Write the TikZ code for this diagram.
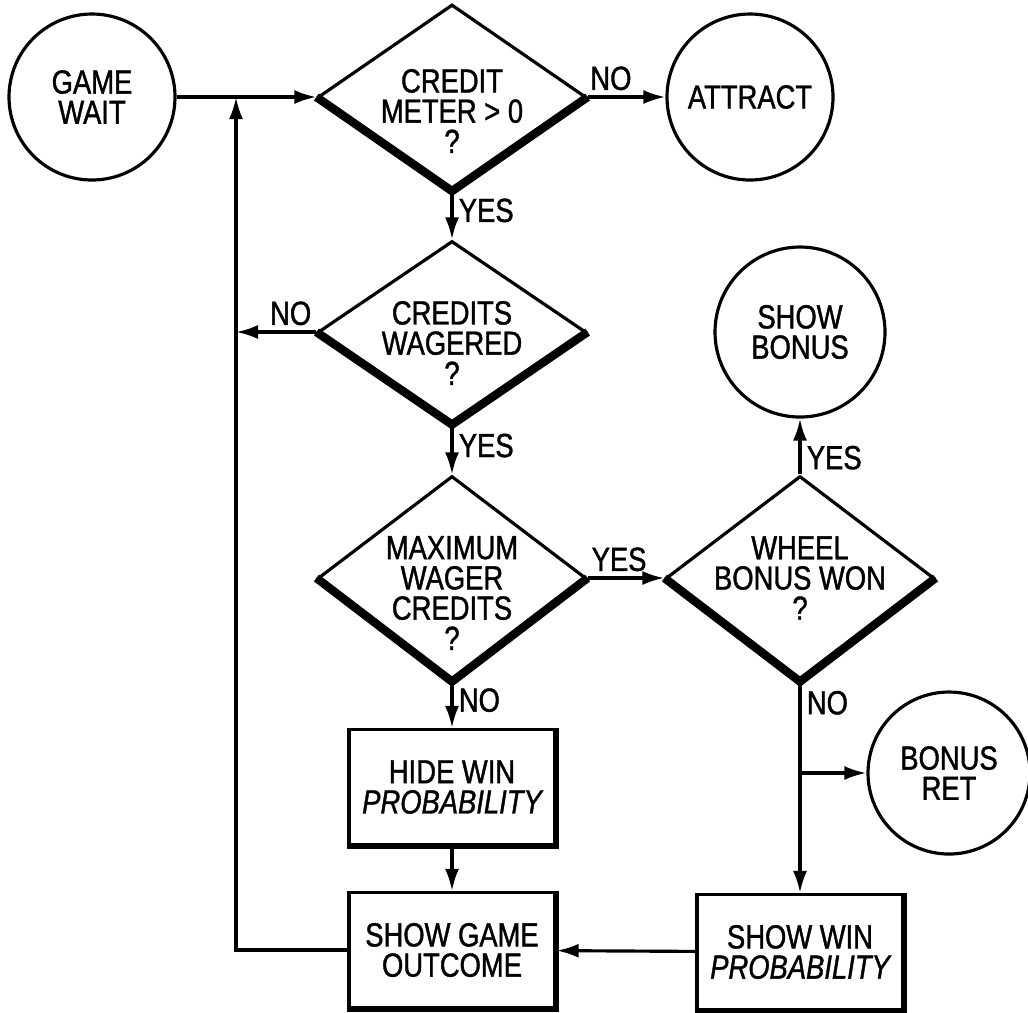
\documentclass[tikz,border=0pt]{standalone}
\usepackage{fontspec}
\setmainfont{Liberation Sans}[FakeStretch=0.82,FakeBold=1.2]
\usetikzlibrary{shapes.geometric,arrows.meta}

\begin{document}
\begin{tikzpicture}[
	>={Latex[length=2.2mm,width=1.4mm]},
	line width=0.9pt,
	every node/.style={font=\fontsize{9.5}{8.6}\selectfont,align=center},
	term/.style={circle,draw,line width=0.9pt,minimum size=1.66cm,inner sep=0pt},
	decide/.style={diamond,draw,line width=0.9pt,minimum width=2.68cm,minimum height=#1,inner sep=0pt},
	act/.style={rectangle,draw,line width=0.9pt,minimum width=2.06cm,minimum height=1.15cm,inner sep=0pt},
	lab/.style={inner sep=1.5pt}]
\useasboundingbox (0,0) rectangle (10.28,-10.12);
\node[term] (wait) at (0.92,-0.97) {GAME\\WAIT};
\node[decide=1.85cm,label={[yshift=-0.14cm]center:CREDIT\\METER > 0\\?}] (d1) at (4.52,-0.97) {};
\node[term] (attract) at (7.50,-0.97) {ATTRACT};
\node[decide=1.82cm,label={[yshift=-0.11cm]center:CREDITS\\WAGERED\\?}] (d2) at (4.52,-3.32) {};
\node[decide=2.04cm,label={[yshift=-0.15cm]center:MAXIMUM\\WAGER\\CREDITS\\?}] (d3) at (4.52,-5.78) {};
\node[decide=2.04cm,label={center:WHEEL\\BONUS WON\\?}] (d4) at (8.00,-5.78) {};
\node[term,minimum size=1.7cm] (bonus) at (8.00,-3.32) {SHOW\\BONUS};
\node[term,minimum size=1.62cm] (bonusret) at (9.49,-7.73) {BONUS\\RET};
\node[act] (hide) at (4.52,-7.87) {HIDE WIN\\{\itshape PROBABILITY}};
\node[act] (outcome) at (4.52,-9.50) {SHOW GAME\\OUTCOME};
\node[act] (showwin) at (8.00,-9.52) {SHOW WIN\\{\itshape PROBABILITY}};
\coordinate (loop) at (2.36,-0.97);
\coordinate (split) at (8.00,-7.73);
\foreach \d in {d1,d2,d3,d4}
	\draw[line width=2.4pt] (\d.west)--(\d.south)--(\d.east);
\foreach \b in {hide,outcome,showwin}
	\draw[line width=1.6pt] (\b.north east)--(\b.south east)--(\b.south west);
\draw[->] (wait)--(d1);
\draw[->] (d1)--node[lab,pos=.3,above]{NO}(attract);
\draw[->] (d1)--node[lab,pos=.4,right]{YES}(d2);
\draw[->] (d2)--node[lab,pos=.32,above]{NO}(d2 -| loop);
\draw[->] (d2)--node[lab,pos=.42,right]{YES}(d3);
\draw[->] (d3)--node[lab,pos=.41,above]{YES}(d4);
\draw[->] (d3)--node[lab,pos=.4,right]{NO}(hide);
\draw[->] (d4)--node[lab,pos=.3,right]{YES}(bonus);
\draw[->] (d4)--node[lab,pos=.1,right]{NO}(showwin);
\draw[->] (split)--(bonusret);
\draw[->] (hide)--(outcome);
\draw[->] (showwin)--(outcome);
\draw[->] (outcome)-|(loop);
\end{tikzpicture}
\end{document}
